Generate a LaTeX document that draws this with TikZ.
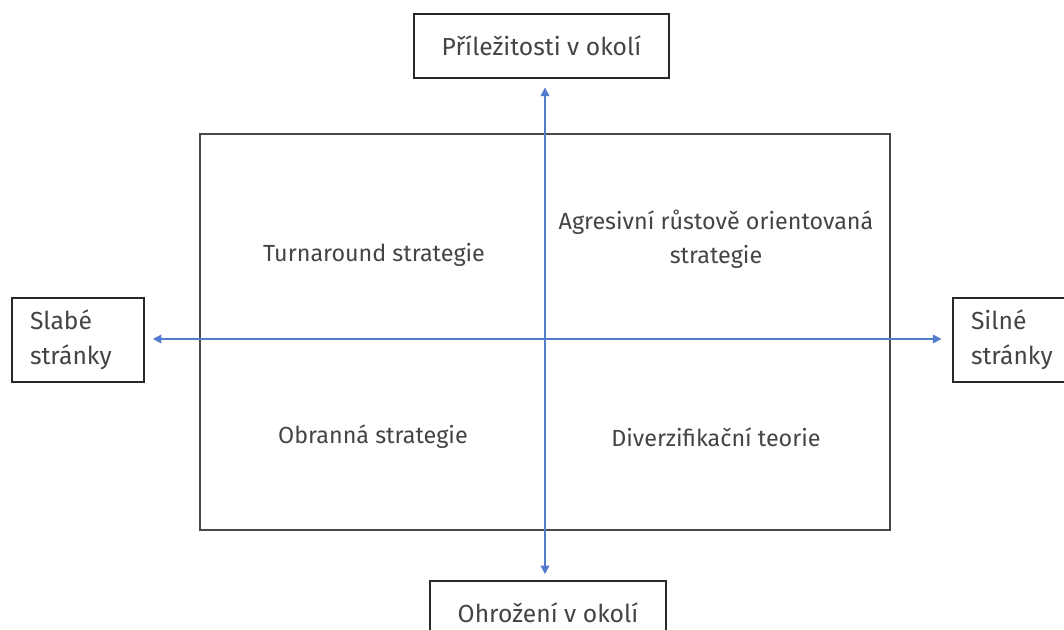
\documentclass[tikz,border=0pt]{standalone}
\usepackage{fontspec}
\setmainfont{Fira Sans}
\usetikzlibrary{arrows.meta}
\begin{document}
\begin{tikzpicture}[x=0.75pt,y=-0.75pt,
	box/.style={draw=cerna,line width=1.2pt,text=seda,font=\fontsize{18.5}{26}\selectfont},
	pole/.style={text=seda,font=\fontsize{17.5}{25.5}\selectfont,align=center},
	osa/.style={draw=modra,line width=1.1pt,-{Triangle[width=6.5pt,length=6.5pt]}}]
	\definecolor{cerna}{RGB}{40,40,40}
	\definecolor{seda}{RGB}{68,68,68}
	\definecolor{modra}{RGB}{84,124,204}
	\clip (0,0) rectangle (1064,630);
	\useasboundingbox (0,0) rectangle (1064,630);
	
	%Matice
	\node[draw=cerna!85,line width=1.2pt,minimum width=517.5pt,minimum height=297pt] (pole) at (545,332) {};
	\node[pole] (turn) at (374,255) {Turnaround strategie};
	\node[pole] (agr) at (716,239) {Agresivní růstově orientovaná\\strategie};
	\node[pole] (obr) at (373,437) {Obranná strategie};
	\node[pole] (div) at (716,437) {Diverzifikační teorie};
	
	%Okolí a stránky
	\node[box,minimum width=191pt,minimum height=48pt] (prilez) at (541.5,46) {Příležitosti v okolí};
	\node[box,minimum width=177pt,minimum height=48pt] (ohroz) at (548,613) {Ohrožení v okolí};
	\node[box,minimum width=99pt,minimum height=63pt,text width=72pt,align=left] (slabe) at (78,340) {Slabé\\stránky};
	\node[box,minimum width=99pt,minimum height=63pt,text width=72pt,align=left] (silne) at (1019,340) {Silné\\stránky};
	
	%Osy
	\coordinate (stred) at (545,339);
	\draw[osa,shorten >=6.5pt] (stred) -- (stred |- prilez.south);
	\draw[osa,shorten >=4.5pt] (stred) -- (stred |- ohroz.north);
	\draw[osa,shorten >=6pt] (stred) -- (slabe.east |- stred);
	\draw[osa,shorten >=8pt] (stred) -- (silne.west |- stred);
\end{tikzpicture}
\end{document}
